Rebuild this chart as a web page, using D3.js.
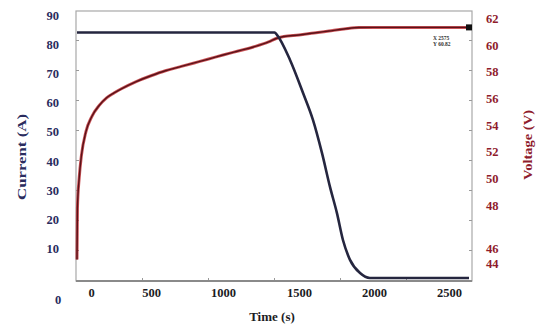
<!DOCTYPE html>
<html>
<head>
<meta charset="utf-8">
<script src="https://cdn.jsdelivr.net/npm/d3@7"></script>
<style>
  html, body { margin: 0; padding: 0; background: #fff; }
  svg { display: block; }
  text { font-family: "Liberation Serif", "DejaVu Serif", serif; font-weight: bold; }
</style>
</head>
<body>
<svg id="chart" width="536" height="325"></svg>
<script>
// ---------- data ----------
const timeTicks = [0, 500, 1000, 1500, 2000, 2500];
const currentTicks = [10, 20, 30, 40, 50, 60, 70, 80, 90];
const voltageTicks = [44, 46, 48, 50, 52, 54, 56, 58, 60, 62];

const timeV = [0, 3, 15, 30, 60, 100, 150, 200, 250, 300, 400, 500, 600, 700, 800, 900,
               1000, 1100, 1200, 1300, 1350, 1400, 1500, 1600, 1700, 1800, 1900, 2000, 2575];
const voltage = [44.1, 47.8, 50.0, 51.6, 53.3, 54.4, 55.2, 55.75, 56.1, 56.4, 56.92, 57.34, 57.7, 57.98,
                 58.26, 58.54, 58.83, 59.12, 59.41, 59.77, 60.02, 60.16, 60.27, 60.42, 60.56, 60.7, 60.81, 60.82, 60.82];

const timeI = [0, 1340, 1355, 1441, 1527, 1593, 1653, 1707, 1753, 1793, 1840, 1907, 1973, 2575];
const current = [84, 84, 83.2, 74.6, 63.3, 54.1, 42.8, 31.1, 22.2, 13.0, 6.2, 1.7, 0, 0];

const tipX = 2575, tipY = 60.82;

// ---------- scales ----------
const plot = { left: 76, right: 472, top: 11, bottom: 281 };
const svg = d3.select("#chart");

const x = d3.scaleLinear().domain([0, 500, 1000, 1500, 2000, 2500, 2575]).range([77, 151, 223, 299, 374, 449, 469]);
const xLab = d3.scaleLinear().domain(timeTicks).range([91, 151, 223, 299, 374, 449]);
const yI = d3.scaleLinear().domain([0, 90]).range([278, 15]);
const yV = d3.scaleLinear().domain([44, 62]).range([261, 11]);
const yVLab = d3.scaleLinear().domain([44, 46, 48, 62]).range([263, 248, 205, 18.5]);

// ---------- frame ----------
svg.append("rect")
  .attr("x", plot.left).attr("y", plot.top)
  .attr("width", plot.right - plot.left).attr("height", plot.bottom - plot.top)
  .attr("fill", "#fff").attr("stroke", "#a8a8a8").attr("stroke-width", 1.2);

// small inner frame ticks
const fy = d3.scaleLinear().domain([0, 9]).range([280, 10]);
const fx = d3.scaleLinear().domain([0, 6]).range([76, 472]);
const tickStyle = g => { g.select(".domain").remove(); g.selectAll("line").attr("stroke", "#999"); g.selectAll("text").remove(); };
svg.append("g").attr("transform", `translate(${plot.left},0)`)
  .call(d3.axisRight(fy).tickValues([1,2,3,4,5,6,7,8]).tickSize(3)).call(tickStyle);
svg.append("g").attr("transform", `translate(${plot.right},0)`)
  .call(d3.axisLeft(fy).tickValues([1,2,3,4,5,6,7,8]).tickSize(3)).call(tickStyle);
svg.append("g").attr("transform", `translate(0,${plot.bottom})`)
  .call(d3.axisTop(fx).tickValues([1,2,3,4,5]).tickSize(3)).call(tickStyle);

// bottom axis line
svg.append("line")
  .attr("x1", plot.left).attr("x2", plot.right)
  .attr("y1", plot.bottom).attr("y2", plot.bottom)
  .attr("stroke", "#8a8a8a").attr("stroke-width", 2);

// ---------- lines ----------
const lineV = d3.line().x((d, i) => x(timeV[i])).y(d => yV(d)).curve(d3.curveMonotoneX);
const lineI = d3.line().x((d, i) => x(timeI[i])).y(d => yI(d)).curve(d3.curveMonotoneX);

svg.append("path").datum(voltage).attr("d", lineV)
  .attr("fill", "none").attr("stroke", "#c0353a").attr("stroke-width", 3).attr("stroke-opacity", 0.85);
svg.append("path").datum(voltage).attr("d", lineV)
  .attr("fill", "none").attr("stroke", "#5a1218").attr("stroke-width", 1.4);

svg.append("path").datum(current).attr("d", lineI)
  .attr("fill", "none").attr("stroke", "#25263f").attr("stroke-width", 2.6)
  .attr("stroke-linejoin", "round");

// data tip
svg.append("rect")
  .attr("x", x(tipX) - 3).attr("y", yV(tipY) - 3)
  .attr("width", 6).attr("height", 6).attr("fill", "#111");
svg.append("text").attr("x", x(tipX) - 36).attr("y", yV(tipY) + 13)
  .attr("font-size", 5.5).attr("fill", "#333").text("X  2575");
svg.append("text").attr("x", x(tipX) - 36).attr("y", yV(tipY) + 19)
  .attr("font-size", 5.5).attr("fill", "#333").text("Y  60.82");

// ---------- axes labels ----------
const navy = "#2a2c5e", wine = "#8f1c2c";
const clean = g => { g.select(".domain").remove(); g.selectAll("line").remove(); };

svg.append("g").attr("transform", "translate(59,0)")
  .call(d3.axisLeft(yI).tickValues(currentTicks).tickSize(0).tickPadding(0).tickFormat(d3.format("d")))
  .call(clean)
  .selectAll("text").attr("font-size", 12.5).attr("fill", navy)
  .attr("font-family", "Liberation Serif, serif").attr("font-weight", "bold");

svg.append("text").attr("x", 58).attr("y", 304).attr("text-anchor", "middle")
  .attr("font-size", 12.5).attr("fill", navy).text("0");

svg.append("g").attr("transform", "translate(486,0)")
  .call(d3.axisRight(yVLab).tickValues(voltageTicks).tickSize(0).tickPadding(0).tickFormat(d3.format("d")))
  .call(clean)
  .selectAll("text").attr("font-size", 12.5).attr("fill", wine)
  .attr("font-family", "Liberation Serif, serif").attr("font-weight", "bold");

svg.append("g").attr("transform", "translate(0,284)")
  .call(d3.axisBottom(xLab).tickValues(timeTicks).tickSize(0).tickPadding(4).tickFormat(d3.format("d")))
  .call(clean)
  .selectAll("text").attr("font-size", 12.5).attr("fill", "#1c1c24")
  .attr("font-family", "Liberation Serif, serif").attr("font-weight", "bold");

svg.append("text").attr("transform", "translate(26,157) rotate(-90)")
  .attr("text-anchor", "middle").attr("font-size", 13).attr("fill", navy)
  .attr("textLength", 86).attr("lengthAdjust", "spacingAndGlyphs")
  .text("Current (A)");

svg.append("text").attr("transform", "translate(532,145) rotate(-90)")
  .attr("text-anchor", "middle").attr("font-size", 13.5).attr("fill", wine)
  .attr("textLength", 70).attr("lengthAdjust", "spacingAndGlyphs")
  .text("Voltage (V)");

svg.append("text").attr("x", 272).attr("y", 321).attr("text-anchor", "middle")
  .attr("font-size", 13).attr("fill", "#1c1c24").text("Time (s)");
</script>
</body>
</html>
